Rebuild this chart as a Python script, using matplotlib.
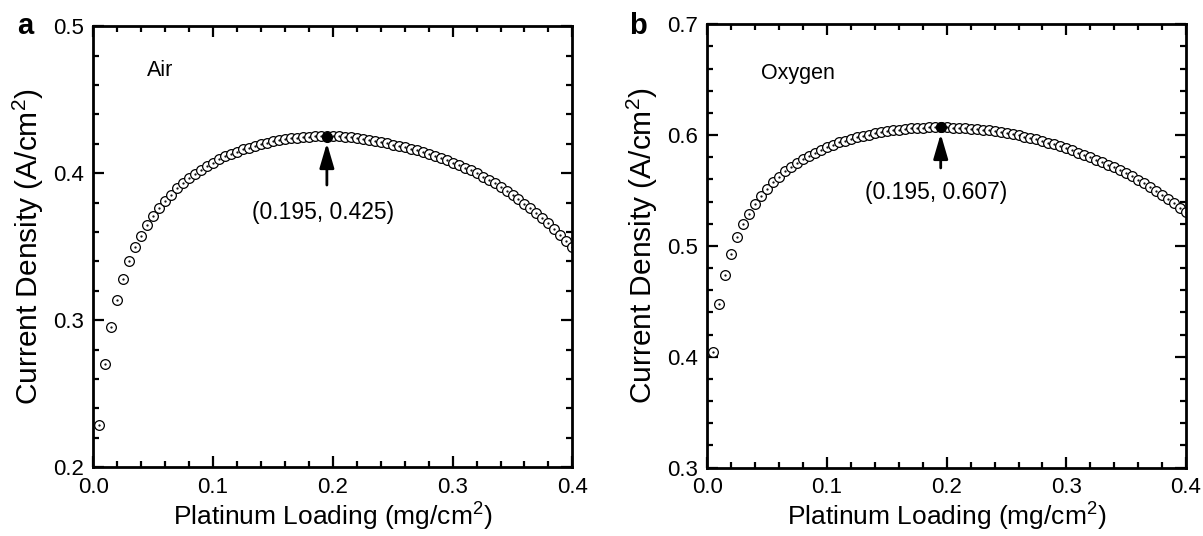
import numpy as np
import matplotlib.pyplot as plt
from matplotlib.ticker import MultipleLocator

plt.rcParams['font.family'] = ['Liberation Sans', 'DejaVu Sans']
plt.rcParams['mathtext.fontset'] = 'custom'
plt.rcParams['mathtext.rm'] = 'Liberation Sans'
plt.rcParams['mathtext.it'] = 'Liberation Sans:italic'

# Platinum loading (mg/cm2), same grid for both panels
loading = [0.005, 0.010, 0.015, 0.020, 0.025, 0.030, 0.035, 0.040, 0.045, 0.050,
           0.055, 0.060, 0.065, 0.070, 0.075, 0.080, 0.085, 0.090, 0.095, 0.100,
           0.105, 0.110, 0.115, 0.120, 0.125, 0.130, 0.135, 0.140, 0.145, 0.150,
           0.155, 0.160, 0.165, 0.170, 0.175, 0.180, 0.185, 0.190, 0.195, 0.200,
           0.205, 0.210, 0.215, 0.220, 0.225, 0.230, 0.235, 0.240, 0.245, 0.250,
           0.255, 0.260, 0.265, 0.270, 0.275, 0.280, 0.285, 0.290, 0.295, 0.300,
           0.305, 0.310, 0.315, 0.320, 0.325, 0.330, 0.335, 0.340, 0.345, 0.350,
           0.355, 0.360, 0.365, 0.370, 0.375, 0.380, 0.385, 0.390, 0.395, 0.400]

# current density (A/cm2), air
air = [0.2286, 0.2705, 0.2957, 0.3140, 0.3283, 0.3400, 0.3497, 0.3576, 0.3646, 0.3707,
       0.3764, 0.3812, 0.3855, 0.3898, 0.3934, 0.3966, 0.3995, 0.4022, 0.4048, 0.4072,
       0.4095, 0.4116, 0.4133, 0.4148, 0.4162, 0.4175, 0.4187, 0.4198, 0.4208, 0.4217,
       0.4225, 0.4232, 0.4238, 0.4243, 0.4247, 0.4250, 0.4252, 0.4253, 0.4254, 0.4253,
       0.4251, 0.4248, 0.4244, 0.4239, 0.4233, 0.4227, 0.4220, 0.4212, 0.4204, 0.4195,
       0.4186, 0.4176, 0.4166, 0.4155, 0.4143, 0.4131, 0.4118, 0.4104, 0.4089, 0.4073,
       0.4056, 0.4038, 0.4019, 0.3999, 0.3978, 0.3956, 0.3932, 0.3907, 0.3881, 0.3853,
       0.3824, 0.3793, 0.3761, 0.3731, 0.3697, 0.3660, 0.3622, 0.3582, 0.3540, 0.3497]

# current density (A/cm2), oxygen
oxygen = [0.4043, 0.4477, 0.4741, 0.4928, 0.5078, 0.5196, 0.5292, 0.5379, 0.5454, 0.5517,
          0.5575, 0.5626, 0.5674, 0.5713, 0.5749, 0.5785, 0.5815, 0.5842, 0.5866, 0.5891,
          0.5914, 0.5936, 0.5951, 0.5966, 0.5980, 0.5993, 0.6005, 0.6016, 0.6026, 0.6035,
          0.6043, 0.6050, 0.6056, 0.6061, 0.6065, 0.6068, 0.6070, 0.6071, 0.6072, 0.6071,
          0.6069, 0.6067, 0.6064, 0.6060, 0.6055, 0.6049, 0.6042, 0.6035, 0.6027, 0.6018,
          0.6008, 0.5997, 0.5986, 0.5974, 0.5961, 0.5947, 0.5932, 0.5916, 0.5899, 0.5881,
          0.5862, 0.5842, 0.5822, 0.5802, 0.5780, 0.5758, 0.5735, 0.5710, 0.5684, 0.5657,
          0.5628, 0.5598, 0.5567, 0.5534, 0.5500, 0.5464, 0.5427, 0.5388, 0.5347, 0.5305]

peak_x = 0.195
peaks = [0.425, 0.607]

panels = [
    dict(tag='a', y=air, ylim=(0.2, 0.5), gas='Air', gas_y=0.470, peak=peaks[0],
         arrow=(0.392, 0.4206), label_y=0.373, rect=[0.0776, 0.1282, 0.3982, 0.8228]),
    dict(tag='b', y=oxygen, ylim=(0.3, 0.7), gas='Oxygen', gas_y=0.656, peak=peaks[1],
         arrow=(0.5704, 0.6011), label_y=0.5478, rect=[0.5880, 0.1276, 0.3979, 0.8270]),
]

fig = plt.figure(figsize=(12.03, 5.36), dpi=100)

for p in panels:
    ax = fig.add_axes(p['rect'])
    ax.plot(loading, p['y'], 'o', ms=7, mfc='white', mec='black', mew=0.9)
    ax.plot(loading, p['y'], '.', ms=1.2, color='black')
    ax.plot([peak_x], [p['peak']], 'o', ms=7, color='black')

    ax.annotate('', xy=(peak_x, p['arrow'][1]), xytext=(peak_x, p['arrow'][0]),
                arrowprops=dict(arrowstyle='-|>,head_length=0.75,head_width=0.22',
                                color='black', lw=2, mutation_scale=20,
                                shrinkA=0, shrinkB=0))
    ax.text(0.1915, p['label_y'], '(0.195, %.3f)' % p['peak'], ha='center', va='center',
            fontsize=16.5)
    ax.text(0.045, p['gas_y'], p['gas'], fontsize=15.5, va='center')

    ax.set_xlim(0, 0.4)
    ax.set_ylim(*p['ylim'])
    ax.xaxis.set_major_locator(MultipleLocator(0.1))
    ax.xaxis.set_minor_locator(MultipleLocator(0.02))
    ax.yaxis.set_major_locator(MultipleLocator(0.1))
    ax.yaxis.set_minor_locator(MultipleLocator(0.02))
    ax.xaxis.set_major_formatter(lambda v, pos: '%.1f' % v)
    ax.yaxis.set_major_formatter(lambda v, pos: '%.1f' % v)
    ax.tick_params(which='both', direction='in', top=True, right=True, width=1.6,
                   labelsize=16, pad=7)
    ax.tick_params(which='major', length=8)
    ax.tick_params(which='minor', length=4.5)
    for s in ax.spines.values():
        s.set_linewidth(2)

    ax.set_xlabel('Platinum Loading (mg/cm$^2$)', fontsize=19, labelpad=2)
    ax.set_ylabel('Current Density (A/cm$^2$)', fontsize=21.5, labelpad=5)

fig.text(0.014, 0.952, 'a', fontsize=21, fontweight='bold', va='center')
fig.text(0.523, 0.952, 'b', fontsize=21, fontweight='bold', va='center')

fig.savefig('out.png', dpi=100)
